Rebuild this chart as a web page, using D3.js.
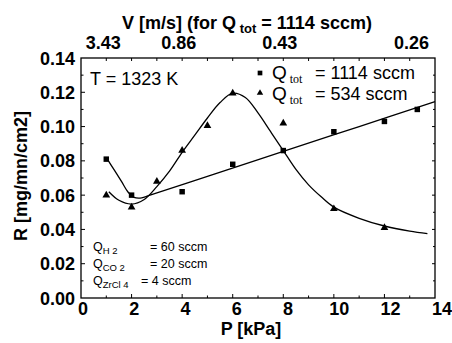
<!DOCTYPE html>
<html>
<head>
<meta charset="utf-8">
<script src="https://cdn.jsdelivr.net/npm/d3@7"></script>
<style>
  body { margin: 0; background: #fff; }
  svg text { font-family: "Liberation Sans", Arial, Helvetica, sans-serif; fill: #000; }
</style>
</head>
<body>
<div id="chart"></div>
<script>
// measured points
var pressure1114 = [1, 2, 4, 6, 8, 10, 12, 13.3];
var rate1114 = [0.081, 0.060, 0.062, 0.078, 0.086, 0.097, 0.103, 0.110];
var pressure534 = [1, 2, 3, 4, 5, 6, 8, 10, 12];
var rate534 = [0.060, 0.053, 0.068, 0.086, 0.1005, 0.1195, 0.102, 0.052, 0.041];

// hand-drawn fit curves
var fit1114P = [1, 1.3, 1.6, 1.85, 2.1, 2.4, 2.7, 5, 8, 11, 14];
var fit1114R = [0.082, 0.075, 0.068, 0.062, 0.0587, 0.0584, 0.0598, 0.0709, 0.0855, 0.100, 0.1145];
var fit534P = [1.1, 1.5, 2, 2.5, 3, 3.5, 4, 4.5, 5, 5.5, 6, 6.5, 7, 7.5, 8, 8.5, 9, 9.5, 10, 11, 12, 13, 13.7];
var fit534R = [0.062, 0.057, 0.0548, 0.0575, 0.065, 0.074, 0.085, 0.095, 0.105, 0.114, 0.1195, 0.117, 0.108, 0.097, 0.086, 0.075, 0.066, 0.059, 0.053, 0.0465, 0.042, 0.039, 0.0375];

var xTicks = [0, 2, 4, 6, 8, 10, 12, 14];
var yTicks = [0, 0.02, 0.04, 0.06, 0.08, 0.10, 0.12, 0.14];
var velocityLabels = ["3.43", "0.86", "0.43", "0.26"];
var velocityConst = 3.43; // V * P for Q_tot = 1114 sccm

var width = 452, height = 343;
var x = d3.scaleLinear().domain([0, 14]).range([81, 435]);
var y = d3.scaleLinear().domain([0, 0.14]).range([298, 58]);

var svg = d3.select("#chart").append("svg")
  .attr("width", width).attr("height", height);

// frame
svg.append("rect")
  .attr("x", x(0)).attr("y", y(0.14))
  .attr("width", x(14) - x(0)).attr("height", y(0) - y(0.14))
  .attr("fill", "none").attr("stroke", "#000").attr("stroke-width", 1.3);

// ticks (all drawn inward)
var ax = svg.append("g").attr("stroke", "#000").attr("stroke-width", 1);
d3.range(1, 14).forEach(function (p) {
  ax.append("line").attr("x1", x(p)).attr("x2", x(p)).attr("y1", y(0)).attr("y2", y(0) - (p % 2 ? 2.5 : 4));
  ax.append("line").attr("x1", x(p)).attr("x2", x(p)).attr("y1", y(0.14)).attr("y2", y(0.14) + 3);
});
d3.range(1, 14).forEach(function (k) {
  var v = k * 0.01;
  ax.append("line").attr("x1", x(0)).attr("x2", x(0) + (k % 2 ? 2.5 : 4)).attr("y1", y(v)).attr("y2", y(v));
  ax.append("line").attr("x1", x(14)).attr("x2", x(14) - (k % 2 ? 2 : 3)).attr("y1", y(v)).attr("y2", y(v));
});

// tick labels
svg.append("g").selectAll("text").data(xTicks).enter().append("text")
  .attr("x", d => x(d) + 2 + d * 0.35).attr("y", 315)
  .attr("text-anchor", "middle").attr("font-size", 18).attr("font-weight", "bold")
  .text(d => d);
svg.append("g").selectAll("text").data(yTicks).enter().append("text")
  .attr("x", 75).attr("y", d => y(d) + 6.5)
  .attr("text-anchor", "end").attr("font-size", 18).attr("font-weight", "bold")
  .text(d => d.toFixed(2));
svg.append("g").selectAll("text").data(velocityLabels).enter().append("text")
  .attr("x", d => x(velocityConst / +d) - 3).attr("y", 49)
  .attr("text-anchor", "middle").attr("font-size", 18).attr("font-weight", "bold")
  .text(d => d);

// axis titles
svg.append("text").attr("x", 251).attr("y", 335)
  .attr("text-anchor", "middle").attr("font-size", 18).attr("font-weight", "bold")
  .text("P [kPa]");
svg.append("text").attr("transform", "translate(27,176) rotate(-90)")
  .attr("text-anchor", "middle").attr("font-size", 18).attr("font-weight", "bold")
  .text("R [mg/mn/cm2]");
var topTitle = svg.append("text").attr("x", 247).attr("y", 29)
  .attr("text-anchor", "middle").attr("font-size", 18).attr("font-weight", "bold");
topTitle.append("tspan").text("V [m/s] (for Q");
topTitle.append("tspan").attr("font-size", 13).attr("dy", 4).text(" tot");
topTitle.append("tspan").attr("dy", -4).text(" = 1114 sccm)");

// fit curves
var line = d3.line().x(d => x(d[0])).y(d => y(d[1])).curve(d3.curveCatmullRom.alpha(0.5));
svg.append("path").datum(d3.zip(fit1114P, fit1114R))
  .attr("d", line).attr("fill", "none").attr("stroke", "#000").attr("stroke-width", 1.3);
svg.append("path").datum(d3.zip(fit534P, fit534R))
  .attr("d", line).attr("fill", "none").attr("stroke", "#000").attr("stroke-width", 1.3);

// markers
var sq = d3.symbol().type(d3.symbolSquare).size(30);
var tri = d3.symbol().type(d3.symbolTriangle).size(26);
svg.append("g").selectAll("path").data(d3.zip(pressure1114, rate1114)).enter().append("path")
  .attr("transform", d => "translate(" + x(d[0]) + "," + y(d[1]) + ")")
  .attr("d", sq).attr("fill", "#000");
svg.append("g").selectAll("path").data(d3.zip(pressure534, rate534)).enter().append("path")
  .attr("transform", d => "translate(" + x(d[0]) + "," + y(d[1]) + ")")
  .attr("d", tri).attr("fill", "#000");

// legend
svg.append("path").attr("transform", "translate(260,73)").attr("d", d3.symbol().type(d3.symbolSquare).size(22)).attr("fill", "#000");
svg.append("path").attr("transform", "translate(260,93)").attr("d", d3.symbol().type(d3.symbolTriangle).size(18)).attr("fill", "#000");
function legendText(yy, value) {
  var t = svg.append("text").attr("x", 272).attr("y", yy).attr("font-size", 19);
  t.append("tspan").text("Q");
  t.append("tspan").attr("font-family", "Liberation Serif, Times New Roman, serif").attr("font-size", 12).attr("dy", 4).attr("dx", 3).text("tot");
  t.append("tspan").attr("x", 315).attr("dy", -4).attr("font-size", 18).text("= " + value + " sccm");
}
legendText(79, "1114");
legendText(100, "534");

svg.append("text").attr("x", 90).attr("y", 85).attr("font-size", 18).text("T = 1323 K");

// feed flows
var flows = [["H", "2", "= 60 sccm", 150], ["CO", "2", "= 20 sccm", 150], ["ZrCl", "4", "= 4 sccm", 141]];
flows.forEach(function (f, i) {
  var t = svg.append("text").attr("x", 93).attr("y", 251 + i * 16.8).attr("font-size", 12.5);
  t.append("tspan").text("Q");
  t.append("tspan").attr("font-size", 9.5).attr("dy", 3).text(f[0] + " " + f[1]);
  t.append("tspan").attr("x", f[3]).attr("dy", -3).text(f[2]);
});
</script>
</body>
</html>
